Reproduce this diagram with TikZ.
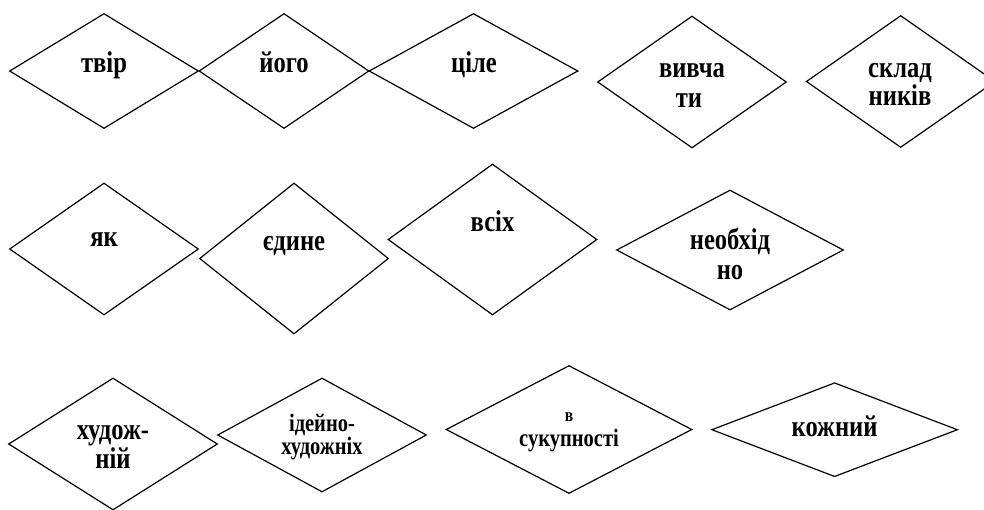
\documentclass[tikz,border=0pt]{standalone}
\usepackage{fontspec}
\setmainfont{Liberation Serif}[FakeStretch=0.82]
\usetikzlibrary{shapes.geometric}

\begin{document}
\begin{tikzpicture}[x=1pt, y=-1pt,
  rhomb/.style={diamond, draw=black, line width=1.2pt, inner sep=0pt},
  word/.style={anchor=base, inner sep=0pt, font=\fontsize{30}{30}\selectfont\bfseries},
  smallword/.style={word, font=\fontsize{25}{25}\selectfont\bfseries},
  tinyword/.style={word, font=\fontsize{19}{19}\selectfont\bfseries},
]
  \useasboundingbox (0,0) rectangle (984,509);
  \clip (0,0) rectangle (984,509);
  % first row
  \node[rhomb, minimum width=189, minimum height=115] (tvir) at (104,71) {};
  \node[rhomb, minimum width=170, minimum height=115] (yoho) at (284,71) {};
  \node[rhomb, minimum width=209, minimum height=115] (tsile) at (473.5,71) {};
  \node[rhomb, minimum width=189, minimum height=132] (vyvchaty) at (692,82) {};
  \node[rhomb, minimum width=189, minimum height=132] (sklad) at (900.7,81.5) {};
  \node[word] (tvir-t) at (104,72) {твір};
  \node[word] (yoho-t) at (284,72) {його};
  \node[word] (tsile-t) at (474,72) {ціле};
  \node[word] (vyvchaty-a) at (692,77) {вивча};
  \node[word] (vyvchaty-b) at (689,107) {ти};
  \node[word] (sklad-a) at (900,77.3) {склад};
  \node[word] (sklad-b) at (900,105.7) {ників};
  % second row
  \node[rhomb, minimum width=189, minimum height=132] (yak) at (104,249) {};
  \node[rhomb, minimum width=189, minimum height=151] (yedyne) at (294,258.5) {};
  \node[rhomb, minimum width=209, minimum height=151] (vsikh) at (492.5,239.5) {};
  \node[rhomb, minimum width=227, minimum height=120] (neobkh) at (730,250) {};
  \node[word] (yak-t) at (104,246) {як};
  \node[word] (yedyne-t) at (294,250) {єдине};
  \node[word] (vsikh-t) at (492.5,231.5) {всіх};
  \node[word] (neobkh-a) at (730,249.5) {необхід};
  \node[word] (neobkh-b) at (730,279) {но};
  % third row
  \node[rhomb, minimum width=209, minimum height=132] (khud) at (113,444) {};
  \node[rhomb, minimum width=209, minimum height=114] (ideino) at (322,435) {};
  \node[rhomb, minimum width=246, minimum height=128] (sukup) at (569,429.5) {};
  \node[rhomb, minimum width=246, minimum height=94] (kozhn) at (834.6,429.7) {};
  \node[word] (khud-a) at (113,439) {худож-};
  \node[word] (khud-b) at (113,468.3) {ній};
  \node[smallword] (ideino-a) at (322,431) {ідейно-};
  \node[smallword] (ideino-b) at (322,454.3) {художніх};
  \node[tinyword] (sukup-a) at (569,421.7) {в};
  \node[smallword] (sukup-b) at (569,446) {сукупності};
  \node[word] (kozhn-t) at (834.6,436) {кожний};
\end{tikzpicture}
\end{document}
